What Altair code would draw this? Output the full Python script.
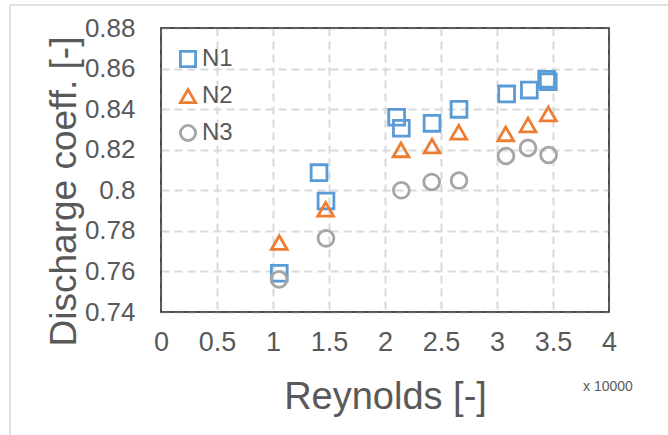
import altair as alt
import pandas as pd

# Reynolds numbers are in units of 10^4 (as displayed on the axis, "x 10000")
series = ["N1", "N2", "N3"]
colors = ["#5B9BD5", "#ED7D31", "#A5A5A5"]
shapes = ["square", "triangle-up", "circle"]

n1_re = [1.056, 1.411, 1.473, 2.104, 2.146, 2.420, 2.661, 3.086, 3.289, 3.443, 3.458]
n1_cd = [0.7591, 0.8087, 0.7947, 0.8360, 0.8306, 0.8330, 0.8399, 0.8475, 0.8494, 0.8547, 0.8535]
n2_re = [1.056, 1.470, 2.143, 2.420, 2.658, 3.078, 3.277, 3.458]
n2_cd = [0.7742, 0.7906, 0.8199, 0.8218, 0.8286, 0.8278, 0.8322, 0.8376]
n3_re = [1.054, 1.473, 2.146, 2.417, 2.661, 3.080, 3.277, 3.461]
n3_cd = [0.7561, 0.7763, 0.8000, 0.8041, 0.8048, 0.8169, 0.8209, 0.8174]

x_ticks = [0, 0.5, 1, 1.5, 2, 2.5, 3, 3.5, 4]
y_ticks = [0.74, 0.76, 0.78, 0.80, 0.82, 0.84, 0.86, 0.88]

rows = []
for name, xs, ys in [("N1", n1_re, n1_cd), ("N2", n2_re, n2_cd), ("N3", n3_re, n3_cd)]:
    for xv, yv in zip(xs, ys):
        rows.append({"series": name, "re": xv, "cd": yv})
df = pd.DataFrame(rows)

FONT = "Liberation Sans"
TXT = "#595959"
GRID = dict(grid=True, gridColor="#D9D9D9", gridDash=[8, 5], gridWidth=2,
            ticks=False, domain=False, labelFlush=False,
            labelColor=TXT, titleColor=TXT, labelFont=FONT, titleFont=FONT,
            titleFontWeight="normal", titleBaseline="alphabetic")

points = alt.Chart(df).mark_point(filled=False, strokeWidth=2.8, opacity=1, size=250).encode(
    x=alt.X("re:Q", scale=alt.Scale(domain=[0, 4], nice=False),
            axis=alt.Axis(values=x_ticks, format="~g", title="Reynolds [-]",
                          labelFontSize=27, labelPadding=17, titleFontSize=38,
                          titleY=96, **GRID)),
    y=alt.Y("cd:Q", scale=alt.Scale(domain=[0.74, 0.88], nice=False, zero=False),
            axis=alt.Axis(values=y_ticks, format=".2~f", title="Discharge coeff. [-]",
                          labelFontSize=26, labelPadding=26, titleFontSize=37,
                          titleX=-86, titleY=163, **GRID)),
    color=alt.Color("series:N", scale=alt.Scale(domain=series, range=colors),
                    legend=alt.Legend(title=None, orient="none", legendX=15, legendY=19,
                                      labelFontSize=24, labelColor=TXT, labelFont=FONT,
                                      symbolSize=230, symbolStrokeWidth=2.8,
                                      rowPadding=10, labelOffset=2, padding=0)),
    shape=alt.Shape("series:N", scale=alt.Scale(domain=series, range=shapes),
                    legend=alt.Legend(title=None, orient="none", legendX=15, legendY=19)),
)

note = alt.Chart(pd.DataFrame({"t": ["x 10000"]})).mark_text(
    align="left", baseline="alphabetic", fontSize=14, color=TXT, font=FONT
).encode(text="t:N", x=alt.value(422), y=alt.value(363))

one = pd.DataFrame({"a": [0]})
plot_frame = alt.Chart(one).mark_rect(fill=None, stroke="#404040", strokeWidth=1.5).encode(
    x=alt.value(0), x2=alt.value(448), y=alt.value(0), y2=alt.value(284))
frame_top = alt.Chart(one).mark_rule(color="#D9D9D9", strokeWidth=1.5).encode(
    x=alt.value(-151), x2=alt.value(520), y=alt.value(-23))
frame_left = alt.Chart(one).mark_rule(color="#D9D9D9", strokeWidth=1.5).encode(
    x=alt.value(-151), y=alt.value(-23), y2=alt.value(420))

chart = alt.layer(frame_top, frame_left, points, plot_frame, note).properties(
    width=448, height=284,
    background="white",
    autosize=alt.AutoSizeParams(type="none"),
    padding={"left": 161, "top": 28, "right": 59, "bottom": 123},
).configure_view(
    stroke="#404040", strokeWidth=1.5
)

chart.save("out.html", embed_options={"renderer": "svg", "actions": False})
